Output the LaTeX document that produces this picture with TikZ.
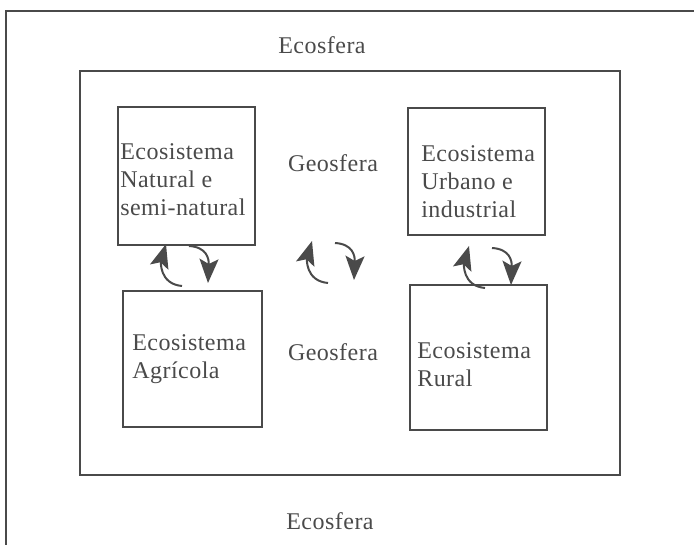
\documentclass[tikz,border=0pt]{standalone}
\usepackage{fontspec}
\setmainfont{Liberation Serif}[LetterSpace=2]
\usetikzlibrary{arrows.meta}
\definecolor{ink}{HTML}{4A4A4A}
\tikzset{
  frame/.style={draw=ink, line width=1.8pt},
  ecobox/.style={frame, inner sep=0pt},
  ecotext/.style={align=left, anchor=west, inner sep=0pt, text=ink,
    font=\fontsize{24}{28}\selectfont},
  sfera/.style={text=ink, font=\fontsize{24}{28}\selectfont},
  cyc/.style={draw=ink, line width=2pt,
    -{Stealth[length=24pt,width=19pt,inset=5pt]}}
}
\begin{document}
\begin{tikzpicture}[x=1pt,y=-1pt]
\useasboundingbox (0,0) rectangle (694,545);
% outer and inner frames
\draw[frame] (6,545) -- (6,11) -- (694,11);
\draw[frame] (80,71) rectangle (620,475);
% labels of the spheres
\node[sfera] (ecoN) at (322,45) {Ecosfera};
\node[sfera] (ecoS) at (330,521) {Ecosfera};
\node[sfera] (geoN) at (333,163) {Geosfera};
\node[sfera] (geoS) at (333,352) {Geosfera};
% the four ecosystems
\node[ecobox, minimum width=137pt, minimum height=138pt] (nat) at (186.5,176) {};
\node[ecobox, minimum width=139pt, minimum height=136pt] (agr) at (192.5,359) {};
\node[ecobox, minimum width=137pt, minimum height=127pt] (urb) at (476.5,171.5) {};
\node[ecobox, minimum width=137pt, minimum height=145pt] (rur) at (478.5,357.5) {};
\node[ecotext] (natT) at ([shift={(3,4)}]nat.west) {Ecosistema\\Natural e\\semi-natural};
\node[ecotext] (agrT) at ([shift={(10,0)}]agr.west) {Ecosistema\\Agrícola};
\node[ecotext] (urbT) at ([shift={(14,10)}]urb.west) {Ecosistema\\Urbano e\\industrial};
\node[ecotext] (rurT) at ([shift={(8,7)}]rur.west) {Ecosistema\\Rural};
% exchange arrows
\foreach \nm/\cx/\cy in {left/187/265, mid/333/262, right/490/267}{
  \coordinate (\nm-ut) at ({\cx-5},{\cy+21});
  \coordinate (\nm-uh) at ({\cx-21},{\cy-21});
  \coordinate (\nm-dt) at ({\cx+2},{\cy-19});
  \coordinate (\nm-dh) at ({\cx+21},{\cy+18});
  \draw[cyc] (\nm-ut) .. controls ({\cx-28},{\cy+19}) and ({\cx-26},{\cy-4}) .. (\nm-uh);
  \draw[cyc] (\nm-dt) .. controls ({\cx+20},{\cy-18}) and ({\cx+22},{\cy-6}) .. (\nm-dh);
}
\end{tikzpicture}
\end{document}
